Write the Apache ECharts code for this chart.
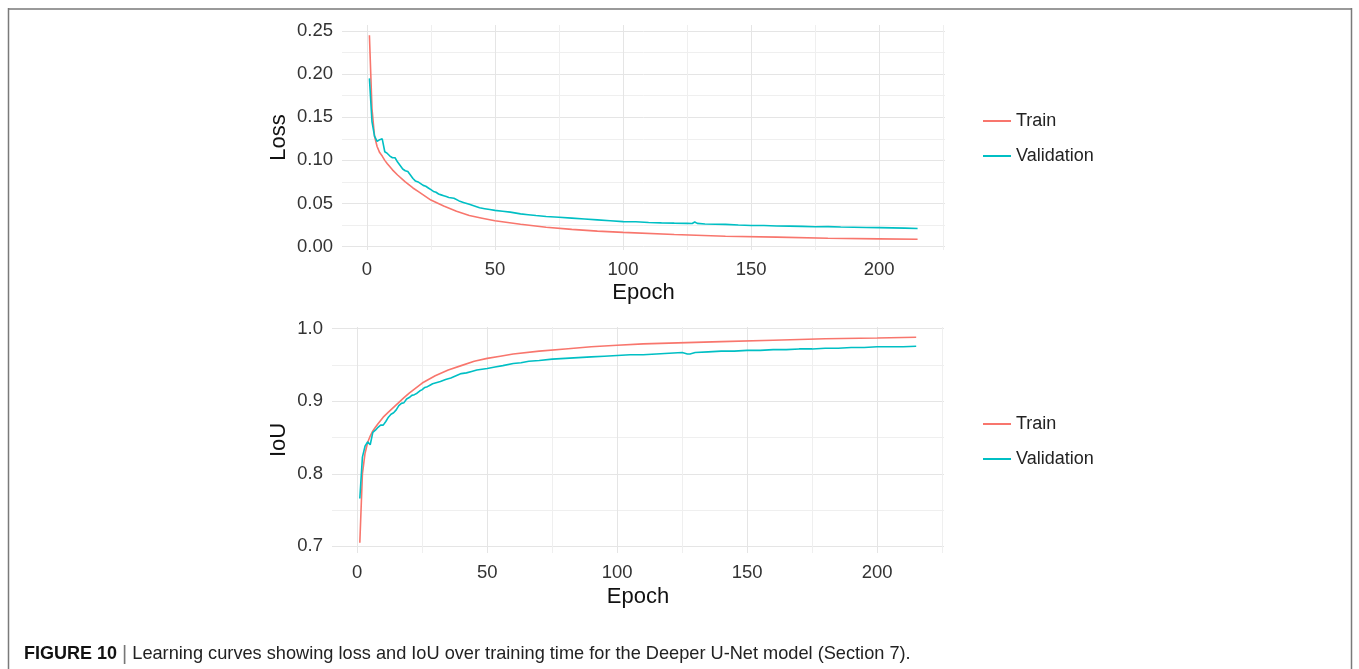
<!DOCTYPE html>
<html>
<head>
<meta charset="utf-8">
<title>Learning curves - Deeper U-Net</title>
<script src="https://cdn.jsdelivr.net/npm/echarts@6.0.0/dist/echarts.min.js"></script>
<style>
  html, body { margin: 0; padding: 0; background: #fff; }
  #main { width: 1359px; height: 669px; }
</style>
</head>
<body>
<div id="main"></div>
<script type="text/javascript">
// tick positions
var epochLabels = [0, 50, 100, 150, 200];
var epochGrid = [0, 25, 50, 75, 100, 125, 150, 175, 200, 225];
var lossLabels = [0, 0.05, 0.10, 0.15, 0.20, 0.25];
var lossGrid = [0, 0.025, 0.05, 0.075, 0.10, 0.125, 0.15, 0.175, 0.20, 0.225, 0.25];
var iouLabels = [0.7, 0.8, 0.9, 1.0];
var iouGrid = [0.7, 0.75, 0.8, 0.85, 0.9, 0.95, 1.0];

// loss curves
var trainLossEpoch = [1, 2, 3, 4, 5, 6, 7, 8, 10, 12, 15, 18, 20, 25, 30, 35, 40, 45, 50, 60, 70, 80, 90, 100, 120, 140, 160, 180, 200, 215];
var trainLoss = [0.245, 0.160, 0.128, 0.116, 0.109, 0.105, 0.100, 0.096, 0.089, 0.083, 0.075, 0.068, 0.064, 0.054, 0.047, 0.041, 0.036, 0.033, 0.030, 0.026, 0.0225, 0.020, 0.018, 0.0165, 0.014, 0.012, 0.011, 0.0098, 0.009, 0.0085];

var valLossEpoch = [1, 2, 3, 4, 5, 6, 7, 8, 9, 10, 11, 12, 13, 14, 15, 16, 17, 18, 19, 20, 21, 22, 23, 24, 25, 26, 27, 28, 29, 30,
  31, 32, 34, 36, 38, 40, 42, 44, 46, 48, 50, 53, 56, 60, 63, 66, 70, 75, 80, 85, 90, 95, 100, 105, 110, 115, 120, 125, 127, 128, 129,
  132, 136, 140, 145, 150, 155, 160, 165, 170, 175, 180, 185, 190, 195, 200, 205, 210, 215];
var valLoss = [0.195, 0.145, 0.128, 0.122, 0.124, 0.125, 0.110, 0.108, 0.105, 0.103, 0.103, 0.098, 0.094, 0.090, 0.088, 0.087, 0.083, 0.079, 0.076, 0.075, 0.073, 0.071, 0.070, 0.068, 0.066, 0.064, 0.063, 0.061, 0.060, 0.059,
  0.058, 0.057, 0.056, 0.053, 0.051, 0.049, 0.047, 0.045, 0.044, 0.043, 0.042, 0.041, 0.040, 0.038, 0.037, 0.036, 0.035, 0.034, 0.033, 0.032, 0.031, 0.030, 0.029, 0.0288, 0.028, 0.0275, 0.0272, 0.027, 0.0268, 0.0285, 0.027,
  0.0262, 0.026, 0.0258, 0.025, 0.0245, 0.0245, 0.024, 0.0238, 0.0235, 0.023, 0.0232, 0.0228, 0.0225, 0.0222, 0.022, 0.0218, 0.0215, 0.021];

// IoU curves
var trainIouEpoch = [1, 2, 3, 4, 5, 6, 7, 8, 10, 12, 15, 18, 20, 25, 30, 35, 40, 45, 50, 55, 60, 70, 80, 90, 100, 110, 120, 140, 160, 180, 200, 215];
var trainIou = [0.705, 0.800, 0.828, 0.843, 0.852, 0.859, 0.864, 0.869, 0.878, 0.885, 0.895, 0.905, 0.911, 0.925, 0.935, 0.943, 0.949, 0.955, 0.959, 0.962, 0.965, 0.969, 0.972, 0.975, 0.977, 0.979, 0.980, 0.982, 0.984, 0.986, 0.987, 0.988];

var valIouEpoch = [1, 2, 3, 4, 5, 6, 7, 8, 9, 10, 11, 12, 13, 14, 15, 16, 17, 18, 19, 20, 21, 22, 23, 24, 25, 26, 27, 28, 29, 30,
  32, 34, 36, 38, 40, 42, 44, 46, 48, 50, 53, 56, 60, 63, 66, 70, 75, 80, 85, 90, 95, 100, 105, 110, 115, 120, 125, 127, 128, 130,
  135, 140, 145, 150, 155, 160, 165, 170, 175, 180, 185, 190, 195, 200, 205, 210, 215];
var valIou = [0.766, 0.823, 0.838, 0.844, 0.840, 0.857, 0.860, 0.864, 0.867, 0.867, 0.872, 0.878, 0.882, 0.884, 0.888, 0.894, 0.897, 0.898, 0.903, 0.905, 0.908, 0.909, 0.911, 0.914, 0.916, 0.919, 0.920, 0.922, 0.924, 0.925,
  0.927, 0.930, 0.932, 0.935, 0.938, 0.939, 0.941, 0.943, 0.944, 0.945, 0.947, 0.949, 0.952, 0.953, 0.955, 0.956, 0.958, 0.959, 0.960, 0.961, 0.962, 0.963, 0.964, 0.964, 0.965, 0.966, 0.967, 0.965, 0.965, 0.967,
  0.968, 0.969, 0.969, 0.970, 0.970, 0.971, 0.971, 0.972, 0.972, 0.973, 0.973, 0.974, 0.974, 0.975, 0.975, 0.975, 0.9757];

var FONT = '"Liberation Sans", Arial, Helvetica, sans-serif';
var RED = '#F8766D', TEAL = '#00BFC4';
var GRID_MAJOR = '#e5e5e5', GRID_MINOR = '#efefef';

function zip(xs, ys) {
  return xs.map(function (x, i) { return [x, ys[i]]; });
}

function epochAxis(gridIndex, gap) {
  return {
    type: 'value', gridIndex: gridIndex, min: -9.7, max: 225.7,
    name: 'Epoch', nameLocation: 'middle', nameGap: gap,
    nameTextStyle: { fontSize: 22, color: '#111', fontFamily: FONT },
    axisLine: { show: false },
    axisTick: { show: false, customValues: epochGrid },
    axisLabel: { customValues: epochLabels, fontSize: 18.5, color: '#333', margin: 10, fontFamily: FONT },
    splitLine: { show: true, lineStyle: { color: [GRID_MAJOR, GRID_MINOR], width: 1 } }
  };
}

function valueAxis(gridIndex, name, gap, min, max, grid, labels, digits) {
  return {
    type: 'value', gridIndex: gridIndex, min: min, max: max,
    name: name, nameLocation: 'middle', nameGap: gap,
    nameTextStyle: { fontSize: 22, color: '#111', fontFamily: FONT },
    axisLine: { show: false },
    axisTick: { show: false, customValues: grid },
    axisLabel: {
      customValues: labels, fontSize: 18.5, color: '#333', margin: 9, fontFamily: FONT,
      formatter: function (v) { return v.toFixed(digits); }
    },
    splitLine: { show: true, lineStyle: { color: [GRID_MAJOR, GRID_MINOR], width: 1 } }
  };
}

function legendAt(top) {
  return {
    orient: 'vertical', left: 983, top: top, padding: 0,
    icon: 'rect', itemWidth: 28, itemHeight: 2, itemGap: 17,
    textStyle: { fontSize: 18, color: '#222', fontFamily: FONT },
    data: ['Train', 'Validation']
  };
}

function curve(name, color, xi, data) {
  return {
    name: name, type: 'line', xAxisIndex: xi, yAxisIndex: xi,
    data: data, symbol: 'none', showSymbol: false, smooth: false,
    lineStyle: { color: color, width: 1.6 }, itemStyle: { color: color },
    emphasis: { disabled: true }
  };
}

var myChart = echarts.init(document.getElementById('main'));

var option = {
  animation: false,
  textStyle: { fontFamily: FONT },
  grid: [
    { left: 342, right: 414, top: 25, height: 225, outerBoundsMode: 'none', containLabel: false },
    { left: 332, right: 415, top: 327, height: 226, outerBoundsMode: 'none', containLabel: false }
  ],
  legend: [legendAt(112), legendAt(415)],
  xAxis: [epochAxis(0, 32), epochAxis(1, 33)],
  yAxis: [
    valueAxis(0, 'Loss', 52, -0.0039, 0.2569, lossGrid, lossLabels, 2),
    valueAxis(1, 'IoU', 42, 0.6909, 1.0022, iouGrid, iouLabels, 1)
  ],
  series: [
    curve('Train', RED, 0, zip(trainLossEpoch, trainLoss)),
    curve('Validation', TEAL, 0, zip(valLossEpoch, valLoss)),
    curve('Train', RED, 1, zip(trainIouEpoch, trainIou)),
    curve('Validation', TEAL, 1, zip(valIouEpoch, valIou))
  ],
  graphic: [
    // figure frame
    { type: 'line', shape: { x1: 8, y1: 9, x2: 1352, y2: 9 }, style: { stroke: '#9a9a9a', lineWidth: 2 } },
    { type: 'line', shape: { x1: 8.5, y1: 8, x2: 8.5, y2: 669 }, style: { stroke: '#7a7a7a', lineWidth: 1.5 } },
    { type: 'line', shape: { x1: 1351.5, y1: 8, x2: 1351.5, y2: 669 }, style: { stroke: '#7a7a7a', lineWidth: 1.5 } },
    // caption
    {
      type: 'text', left: 24, top: 644,
      style: {
        text: '{b|FIGURE 10 }{s||}{n| Learning curves showing loss and IoU over training time for the Deeper U-Net model (Section 7).}',
        rich: {
          b: { fontSize: 18, fontWeight: 'bold', fill: '#111', fontFamily: FONT },
          s: { fontSize: 20, fill: '#777', fontFamily: FONT },
          n: { fontSize: 18.2, fill: '#222', fontFamily: FONT }
        }
      }
    }
  ]
};

myChart.setOption(option);
</script>
</body>
</html>
